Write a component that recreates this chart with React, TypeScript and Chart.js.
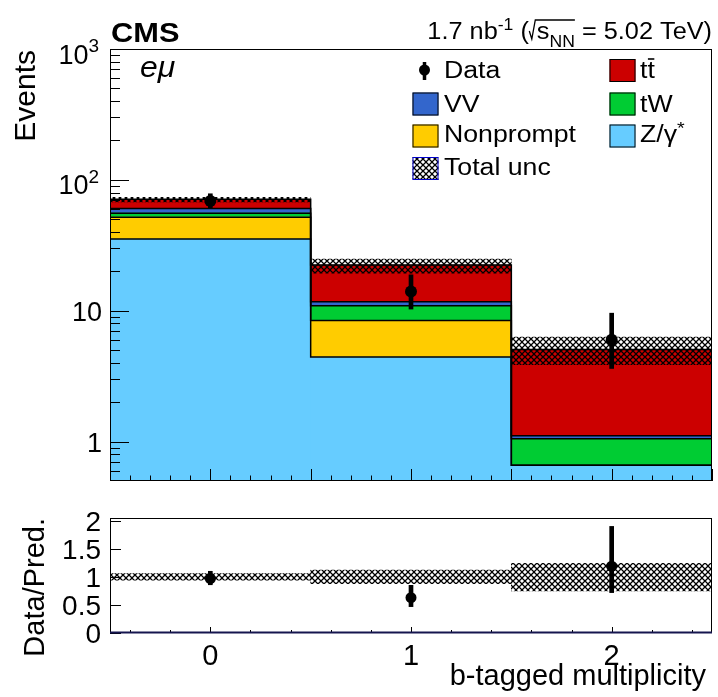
import React, { useEffect, useRef } from 'react';
import { Chart, registerables } from 'chart.js';
Chart.register(...registerables);

// ---------- data ----------
const BINS = [0, 1, 2];
const X_MIN = -0.5;
const X_MAX = 2.5;
const Y_MIN = 0.5;
const Y_MAX = 1000;
const R_MIN = 0;
const R_MAX = 2.05;

const zgammaVals = [35.3, 4.43, 0.66];
const nonpromptVals = [16.6, 4.0, 0];
const twVals = [3.8, 2.5, 0.39];
const vvVals = [4.7, 0.8, 0.06];
const ttbarVals = [10.6, 10.6, 3.95];

const dataVals = [69, 14, 6];
const dataLow = [60.7, 10.3, 3.62];
const dataHigh = [78.3, 18.8, 9.58];
const uncLow = [67.9, 19.4, 3.87];
const uncHigh = [73.5, 24.8, 6.28];

const ratioVals = [0.97, 0.63, 1.19];
const ratioLow = [0.86, 0.47, 0.72];
const ratioHigh = [1.1, 0.85, 1.9];
const ratioUncLow = [0.94, 0.88, 0.75];
const ratioUncHigh = [1.06, 1.12, 1.24];

const Y_TICKS = [1, 10, 100, 1000];
const Y_TICK_BASE = ['1', '10', '10', '10'];
const Y_TICK_EXP = ['', '', '2', '3'];
const R_TICKS = [0, 0.5, 1, 1.5, 2];
const R_TICK_LABELS = ['0', '0.5', '1', '1.5', '2'];
const X_TICK_LABELS = ['0', '1', '2'];

const LAYERS = [
  { label: 'Z/γ*', values: zgammaVals, color: '#66ccff' },
  { label: 'Nonprompt', values: nonpromptVals, color: '#ffcc00' },
  { label: 'tW', values: twVals, color: '#00cc33' },
  { label: 'VV', values: vvVals, color: '#3366cc' },
  { label: 'tt', values: ttbarVals, color: '#cc0000' },
];

// cumulative stack tops built from the layer arrays
const CUM: number[][] = [];
LAYERS.forEach((l, k) => {
  CUM.push(l.values.map((v, i) => v + (k > 0 ? CUM[k - 1][i] : 0)));
});

const F = '"Liberation Sans", Arial, Helvetica, sans-serif';

// ---------- helpers ----------
function txt(
  ctx: CanvasRenderingContext2D, s: string, x: number, y: number, font: string,
  align: CanvasTextAlign = 'left', sx = 1, rot = 0
) {
  ctx.save();
  ctx.translate(x, y);
  if (rot) ctx.rotate(rot);
  ctx.scale(sx, 1);
  ctx.font = font;
  ctx.textAlign = align;
  ctx.textBaseline = 'alphabetic';
  ctx.fillStyle = '#000';
  ctx.fillText(s, 0, 0);
  ctx.restore();
}
function measure(ctx: CanvasRenderingContext2D, s: string, font: string) {
  ctx.save();
  ctx.font = font;
  const w = ctx.measureText(s).width;
  ctx.restore();
  return w;
}
function seg(ctx: CanvasRenderingContext2D, x1: number, y1: number, x2: number, y2: number) {
  ctx.beginPath();
  ctx.moveTo(x1, y1);
  ctx.lineTo(x2, y2);
  ctx.stroke();
}
function makeHatch(): CanvasPattern {
  const c = document.createElement('canvas');
  c.width = 6;
  c.height = 6;
  const g = c.getContext('2d')!;
  g.strokeStyle = '#000';
  g.lineWidth = 1.25;
  g.beginPath();
  g.moveTo(-1, -1); g.lineTo(7, 7);
  g.moveTo(7, -1); g.lineTo(-1, 7);
  g.stroke();
  return g.createPattern(c, 'repeat')!;
}

// ---------- plugins ----------
function topPlugin(hatch: CanvasPattern) {
  return {
    id: 'topDeco',
    afterDraw(chart: any) {
      const { ctx, chartArea: a, scales } = chart;
      const x = scales.x, y = scales.y;
      ctx.save();
      ctx.strokeStyle = '#000';
      ctx.lineWidth = 1;
      // y ticks (log)
      for (let e = -1; e <= 3; e++) {
        for (let k = 1; k <= 9; k++) {
          const v = k * Math.pow(10, e);
          if (v <= Y_MIN * 1.0001 || v > Y_MAX * 1.0001) continue;
          const py = Math.round(y.getPixelForValue(v)) + 0.5;
          seg(ctx, a.left, py, a.left + (k === 1 ? 19 : 10), py);
        }
      }
      // x ticks
      for (let i = -5; i <= 25; i++) {
        const v = i / 10;
        const px = Math.round(x.getPixelForValue(v)) + 0.5;
        seg(ctx, px, a.bottom, px, a.bottom - (i % 5 === 0 ? 12 : 5.5));
      }
      // frame
      ctx.strokeRect(a.left + 0.5, a.top + 0.5, a.right - a.left - 1, a.bottom - a.top - 1);

      // y tick labels
      Y_TICKS.forEach((v, i) => {
        const py = y.getPixelForValue(v);
        const base = Y_TICK_BASE[i];
        const exp = Y_TICK_EXP[i];
        if (exp) {
          const fe = `19px ${F}`;
          const we = measure(ctx, exp, fe);
          txt(ctx, exp, 99, py + 3, fe, 'right');
          txt(ctx, base, 99 - we, py + 14.5, `27px ${F}`, 'right');
        } else {
          txt(ctx, base, 102, py + 10, `27px ${F}`, 'right');
        }
      });

      // axis title
      txt(ctx, 'Events', 35, 50, `30px ${F}`, 'right', 1, -Math.PI / 2);

      // CMS + channel
      txt(ctx, 'CMS', 111, 41.7, `bold 28px ${F}`, 'left', 1.1);
      txt(ctx, 'eμ', 140, 77, `italic 29px ${F}`, 'left', 1.1);

      // lumi text
      const B = 39;
      const big = `23px ${F}`;
      const small = `16px ${F}`;
      const sx = 1.1;
      const parts = [
        { s: '1.7 nb', f: big, dy: 0, rad: false },
        { s: '-1', f: small, dy: -9, rad: false },
        { s: ' (', f: big, dy: 0, rad: false },
        { s: '', f: big, dy: 0, rad: true },
        { s: 's', f: big, dy: 0, rad: false },
        { s: 'NN', f: small, dy: 8, rad: false },
        { s: ' = 5.02 TeV)', f: big, dy: 0, rad: false },
      ];
      const widths = parts.map((p) => (p.rad ? 8 : measure(ctx, p.s, p.f) * sx));
      const total = widths.reduce((s2, w) => s2 + w, 0);
      let cx = a.right - total;
      let radStart = 0;
      parts.forEach((p, i) => {
        if (p.rad) radStart = cx;
        else txt(ctx, p.s, cx, B + p.dy, p.f, 'left', sx);
        cx += widths[i];
        if (p.s === 'NN') {
          ctx.lineWidth = 1.3;
          ctx.beginPath();
          ctx.moveTo(radStart + 0.5, B - 8);
          ctx.lineTo(radStart + 3, B);
          ctx.lineTo(radStart + 6.5, B - 19);
          ctx.lineTo(cx, B - 19);
          ctx.stroke();
          ctx.lineWidth = 1;
        }
      });

      // legend
      const lf = `23px ${F}`;
      const lsx = 1.16;
      const boxTops = [59, 92.5, 124.5, 157];
      const baselines = [77.5, 111.7, 141.7, 175];
      const bw = 26, bh = 23;
      const col1 = 412.5, col2 = 609.5;
      const t1 = 444, t2 = 640;
      const box = (bx: number, by: number, fill: any, stroke: string) => {
        ctx.fillStyle = fill;
        ctx.fillRect(bx, by, bw, bh);
        ctx.strokeStyle = stroke;
        ctx.lineWidth = 1;
        ctx.strokeRect(bx + 0.5, by + 0.5, bw - 1, bh - 1);
        ctx.strokeStyle = '#000';
      };
      // Data
      ctx.lineWidth = 3.5;
      seg(ctx, 424.5, 62, 424.5, 80);
      ctx.lineWidth = 1;
      ctx.fillStyle = '#000';
      ctx.beginPath();
      ctx.arc(424.5, 70, 5.5, 0, Math.PI * 2);
      ctx.fill();
      txt(ctx, 'Data', t1, baselines[0], lf, 'left', lsx);
      // VV, Nonprompt, Total unc
      box(col1, boxTops[1], LAYERS[3].color, '#000');
      txt(ctx, LAYERS[3].label, t1, baselines[1], lf, 'left', lsx);
      box(col1, boxTops[2], LAYERS[1].color, '#000');
      txt(ctx, LAYERS[1].label, t1, baselines[2], lf, 'left', lsx);
      ctx.fillStyle = '#fff';
      ctx.fillRect(col1, boxTops[3], bw, bh);
      box(col1, boxTops[3], hatch, '#0000cc');
      txt(ctx, 'Total unc', t1, baselines[3], lf, 'left', lsx);
      // right column
      box(col2, boxTops[0], LAYERS[4].color, '#000');
      txt(ctx, 'tt', t2, baselines[0], lf, 'left', lsx);
      const wt = measure(ctx, 't', lf) * lsx;
      ctx.lineWidth = 1.6;
      seg(ctx, t2 + wt + 0.5, baselines[0] - 18.5, t2 + 2 * wt - 0.5, baselines[0] - 18.5);
      ctx.lineWidth = 1;
      box(col2, boxTops[1], LAYERS[2].color, '#000');
      txt(ctx, LAYERS[2].label, t2, baselines[1], lf, 'left', lsx);
      box(col2, boxTops[2], LAYERS[0].color, '#000');
      const zb = 'Z/γ';
      txt(ctx, zb, t2, baselines[2], lf, 'left', lsx);
      txt(ctx, '*', t2 + measure(ctx, zb, lf) * lsx, baselines[2] - 8, `17px ${F}`, 'left', lsx);
      ctx.restore();
    },
  };
}

function ratioPlugin() {
  return {
    id: 'ratioDeco',
    afterDraw(chart: any) {
      const { ctx, chartArea: a, scales } = chart;
      const x = scales.x, y = scales.y;
      ctx.save();
      ctx.strokeStyle = '#000';
      ctx.lineWidth = 1;
      R_TICKS.forEach((v) => {
        const py = Math.round(y.getPixelForValue(v)) + 0.5;
        seg(ctx, a.left, py, a.left + 11, py);
      });
      for (let i = -2; i <= 12; i++) {
        const v = i * 0.2;
        const major = Math.abs(v - Math.round(v)) < 1e-6;
        const px = Math.round(x.getPixelForValue(v)) + 0.5;
        seg(ctx, px, a.bottom, px, a.bottom - (major ? 6 : 3));
      }
      ctx.strokeRect(a.left + 0.5, a.top + 0.5, a.right - a.left - 1, a.bottom - a.top - 1);
      ctx.strokeStyle = '#15154f';
      ctx.lineWidth = 2;
      seg(ctx, a.left, a.bottom - 0.5, a.right, a.bottom - 0.5);

      R_TICKS.forEach((v, i) => {
        const py = y.getPixelForValue(v);
        txt(ctx, R_TICK_LABELS[i], 101, py + 10, `28px ${F}`, 'right');
      });
      BINS.forEach((b, i) => {
        txt(ctx, X_TICK_LABELS[i], x.getPixelForValue(b), 165, `29px ${F}`, 'center');
      });
      txt(ctx, 'b-tagged multiplicity', 706, 185, `29px ${F}`, 'right');
      txt(ctx, 'Data/Pred.', 44, 18, `29px ${F}`, 'right', 1, -Math.PI / 2);
      ctx.restore();
    },
  };
}

// ---------- configs ----------
const edges = [...BINS.map((b) => b - 0.5), BINS[BINS.length - 1] + 0.5];

function xScale() {
  return {
    type: 'linear',
    min: X_MIN,
    max: X_MAX,
    offset: false,
    display: false,
    afterBuildTicks: (s: any) => {
      s.ticks = BINS.map((v) => ({ value: v }));
    },
  };
}

function topConfig(hatch: CanvasPattern): any {
  const datasets: any[] = [];
  datasets.push({
    type: 'line',
    label: 'Data',
    data: BINS.map((b, i) => ({ x: b, y: dataVals[i] })),
    showLine: false,
    pointRadius: 6,
    pointBackgroundColor: '#000',
    pointBorderWidth: 0,
    order: 0,
  });
  datasets.push({
    type: 'bar',
    label: 'Data err',
    data: BINS.map((b, i) => ({ x: b, y: [dataLow[i], dataHigh[i]] })),
    backgroundColor: '#000',
    barThickness: 4,
    order: 1,
  });
  datasets.push({
    type: 'bar',
    label: 'Total unc',
    data: BINS.map((b, i) => ({ x: b, y: [uncLow[i], uncHigh[i]] })),
    backgroundColor: hatch,
    order: 2,
  });
  LAYERS.forEach((l, k) => {
    datasets.push({
      type: 'line',
      label: l.label + ' outline',
      data: edges.map((e, j) => ({ x: e, y: CUM[k][Math.min(j, BINS.length - 1)] })),
      stepped: 'before',
      borderColor: '#000',
      borderWidth: 1.5,
      pointRadius: 0,
      fill: false,
      order: 5,
    });
  });
  LAYERS.forEach((l, k) => {
    datasets.push({
      type: 'bar',
      label: l.label,
      data: BINS.map((b, i) => ({ x: b, y: CUM[k][i] })),
      backgroundColor: l.color,
      order: 10 + k,
    });
  });
  return {
    type: 'bar',
    data: { datasets },
    options: {
      responsive: false,
      animation: false,
      devicePixelRatio: 1,
      layout: { padding: { left: 110, right: 6, top: 49, bottom: 19 } },
      datasets: {
        bar: { grouped: false, categoryPercentage: 1, barPercentage: 1, borderWidth: 0 },
      },
      plugins: { legend: { display: false }, tooltip: { enabled: false } },
      scales: {
        x: xScale(),
        y: { type: 'logarithmic', min: Y_MIN, max: Y_MAX, display: false },
      },
    },
    plugins: [topPlugin(hatch)],
  };
}

function ratioConfig(hatch: CanvasPattern): any {
  return {
    type: 'bar',
    data: {
      datasets: [
        {
          type: 'line',
          label: 'Ratio',
          data: BINS.map((b, i) => ({ x: b, y: ratioVals[i] })),
          showLine: false,
          pointRadius: 5.5,
          pointBackgroundColor: '#000',
          pointBorderWidth: 0,
          order: 0,
        },
        {
          type: 'bar',
          label: 'Ratio err',
          data: BINS.map((b, i) => ({ x: b, y: [ratioLow[i], ratioHigh[i]] })),
          backgroundColor: '#000',
          barThickness: 4,
          order: 1,
        },
        {
          type: 'bar',
          label: 'Unc',
          data: BINS.map((b, i) => ({ x: b, y: [ratioUncLow[i], ratioUncHigh[i]] })),
          backgroundColor: hatch,
          order: 2,
        },
      ],
    },
    options: {
      responsive: false,
      animation: false,
      devicePixelRatio: 1,
      layout: { padding: { left: 110, right: 6, top: 18, bottom: 64 } },
      datasets: {
        bar: { grouped: false, categoryPercentage: 1, barPercentage: 1, borderWidth: 0 },
      },
      plugins: { legend: { display: false }, tooltip: { enabled: false } },
      scales: {
        x: xScale(),
        y: { type: 'linear', min: R_MIN, max: R_MAX, display: false },
      },
    },
    plugins: [ratioPlugin()],
  };
}

export default function App() {
  const topRef = useRef<HTMLCanvasElement>(null);
  const botRef = useRef<HTMLCanvasElement>(null);
  useEffect(() => {
    const hatch = makeHatch();
    const top = new Chart(topRef.current!, topConfig(hatch));
    const bot = new Chart(botRef.current!, ratioConfig(hatch));
    return () => {
      top.destroy();
      bot.destroy();
    };
  }, []);
  return (
    <div style={{ position: 'absolute', left: 0, top: 0, width: 718, height: 697, background: '#fff' }}>
      <canvas ref={topRef} width={718} height={500} style={{ position: 'absolute', left: 0, top: 0 }} />
      <canvas ref={botRef} width={718} height={197} style={{ position: 'absolute', left: 0, top: 500 }} />
    </div>
  );
}
